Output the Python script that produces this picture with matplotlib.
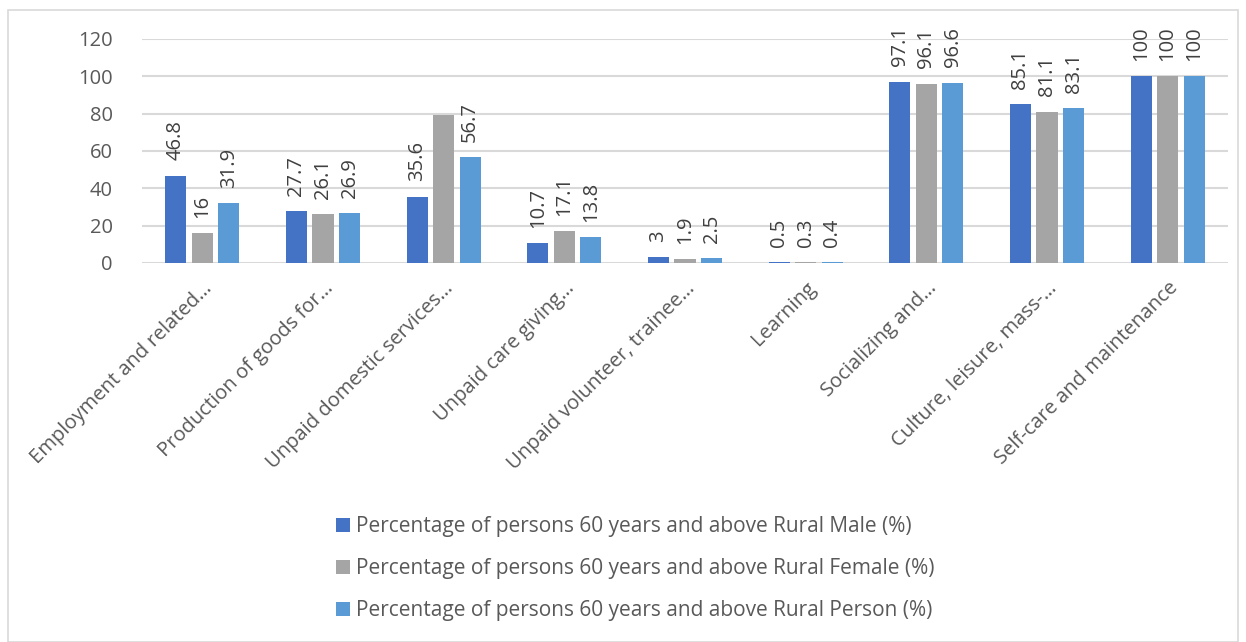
import numpy as np
import matplotlib
matplotlib.use('Agg')
from matplotlib import pyplot as plt
from matplotlib.patches import Rectangle

#%% DATA

categories = ['Employment and related…', 'Production of goods for…',
              'Unpaid domestic services…', 'Unpaid care giving…',
              'Unpaid volunteer, trainee…', 'Learning', 'Socializing and…',
              'Culture, leisure, mass-…', 'Self-care and maintenance']

male = [46.8, 27.7, 35.6, 10.7, 3, 0.5, 97.1, 85.1, 100]
female = [16, 26.1, 79.3, 17.1, 1.9, 0.3, 96.1, 81.1, 100]
person = [31.9, 26.9, 56.7, 13.8, 2.5, 0.4, 96.6, 83.1, 100]

# the chart shows no label on the female bar of the 3rd category
female_label_shown = [True, True, False, True, True, True, True, True, True]

series_names = ['Percentage of persons 60 years and above Rural Male (%)',
                'Percentage of persons 60 years and above Rural Female (%)',
                'Percentage of persons 60 years and above Rural Person (%)']

yticks = [0, 20, 40, 60, 80, 100, 120]

#%% STYLE

COLORS = ['#4472C4', '#A5A5A5', '#5B9BD5']
TEXT = '#595959'
GRID = '#D9D9D9'
FS = 14.5

plt.rcParams['font.family'] = ['Open Sans', 'DejaVu Sans']

#%% PLOT

fig = plt.figure(figsize=(12.46, 6.42), dpi=100)
ax = fig.add_axes([142/1246, 1 - 263/642, (1228 - 142)/1246, (263 - 39)/642])

x = np.arange(len(categories))
width = 0.175
offsets = [-0.22, 0, 0.22]
all_series = [male, female, person]
shown = [[True]*len(male), female_label_shown, [True]*len(person)]

for vals, off, col, name, mask in zip(all_series, offsets, COLORS,
                                      series_names, shown):
    bars = ax.bar(x + off, vals, width, color=col, label=name, zorder=3)
    for b, v, m in zip(bars, vals, mask):
        if not m:
            continue
        ax.annotate('%g' % v, (b.get_x() + b.get_width()/2, v),
                    xytext=(0, 11), textcoords='offset points',
                    rotation=90, ha='center', va='bottom',
                    fontsize=FS, color='#404040', zorder=4)

ax.set_xlim(-0.5, len(categories) - 0.5)
ax.set_ylim(0, 120)
ax.set_yticks(yticks)
ax.yaxis.grid(True, color=GRID, linewidth=1.5, zorder=0)
ax.set_axisbelow(True)
for s in ax.spines.values():
    s.set_visible(False)
ax.tick_params(length=0, labelsize=FS, colors=TEXT)
ax.tick_params(axis='y', pad=21)

ax.set_xticks(x)
ax.set_xticklabels(categories, rotation=45, ha='right', va='top',
                   rotation_mode='anchor', fontsize=FS, color=TEXT)
ax.tick_params(axis='x', pad=11)

leg = fig.legend(loc='upper center', bbox_to_anchor=(0.510, 0.225),
                 ncol=1, frameon=False, fontsize=15, handlelength=0.67,
                 handleheight=0.67, handletextpad=0.3, labelspacing=1.0,
                 labelcolor=TEXT)

# chart border
fig.patches.append(Rectangle((8/1246, 0), (1238 - 8)/1246, 1 - 10/642,
                             transform=fig.transFigure, fill=False,
                             edgecolor=GRID, linewidth=1.2))

fig.savefig('out.png', dpi=100)
